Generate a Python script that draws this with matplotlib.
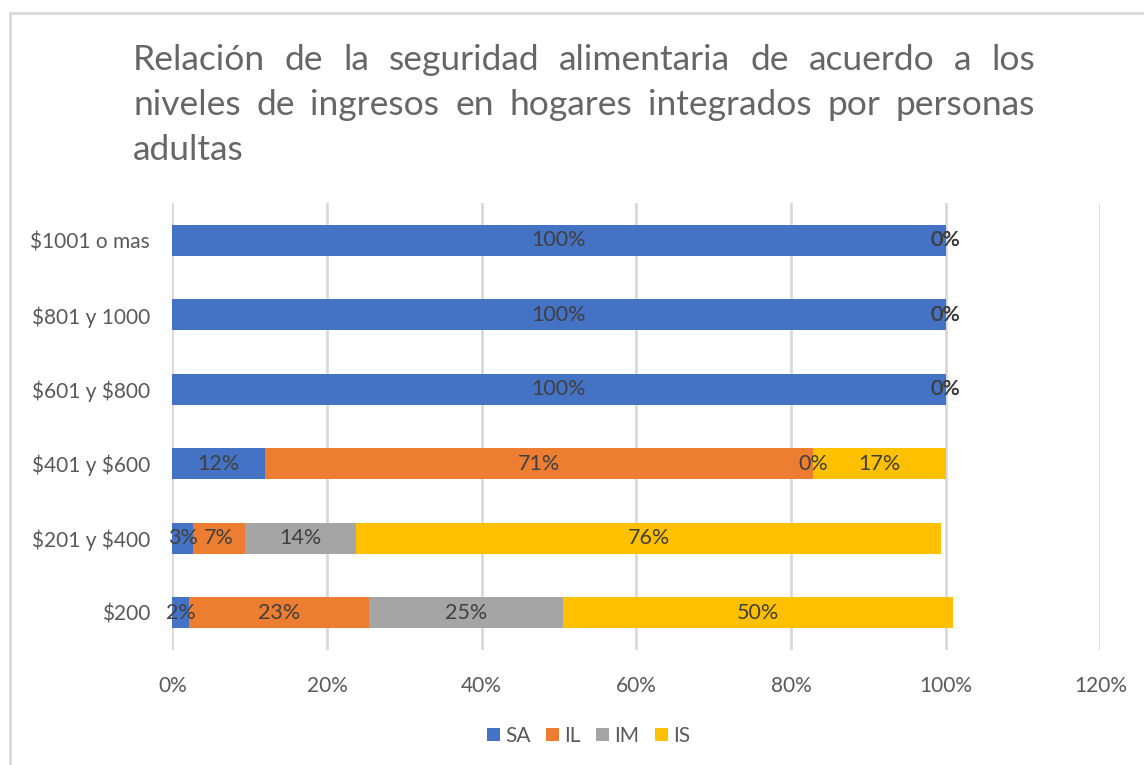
import numpy as np
import matplotlib.pyplot as plt
from matplotlib.patches import Rectangle

# categories bottom to top
categorias = ["$200", "$201 y $400", "$401 y $600", "$601 y $800", "$801 y 1000", "$1001 o mas"]
SA = [0.022, 0.027, 0.120, 1.0, 1.0, 1.0]
IL = [0.232, 0.067, 0.709, 0.0, 0.0, 0.0]
IM = [0.251, 0.144, 0.0, 0.0, 0.0, 0.0]
IS = [0.504, 0.756, 0.171, 0.0, 0.0, 0.0]
series = ["SA", "IL", "IM", "IS"]
colores = ["#4472C4", "#ED7D31", "#A5A5A5", "#FFC000"]
xticks = [0, 0.2, 0.4, 0.6, 0.8, 1.0, 1.2]

titulo = ["Relación de la seguridad alimentaria de acuerdo a los",
          "niveles de ingresos en hogares integrados por personas",
          "adultas"]

plt.rcParams['font.family'] = ['Lato', 'DejaVu Sans']
plt.rcParams['text.parse_math'] = False

W, H = 1144, 765
fig = plt.figure(figsize=(W / 100, H / 100), dpi=100)
ax = fig.add_axes([172.3 / W, 1 - 650 / H, (1100.4 - 172.3) / W, (650 - 203) / H])

y = np.arange(len(categorias))
left = np.zeros(len(categorias))
for nombre, vals, c in zip(series, [SA, IL, IM, IS], colores):
    vals = np.array(vals)
    ax.barh(y, vals, left=left, height=0.41, color=c, label=nombre, zorder=3)
    for yi, l, v in zip(y, left, vals):
        ax.text(l + v / 2, yi, "{:.0%}".format(v), ha='center', va='center',
                fontsize=15.5, color='#404040', zorder=4)
    left = left + vals

ax.set_xlim(0, 1.2)
ax.set_ylim(-0.5, len(categorias) - 0.5)
ax.set_xticks(xticks)
ax.set_xticklabels(["{:.0%}".format(t) for t in xticks])
ax.set_yticks(y)
ax.set_yticklabels(categorias)
ax.tick_params(axis='both', length=0, labelsize=15, labelcolor='#595959')
ax.tick_params(axis='x', pad=19)
ax.tick_params(axis='y', pad=16)
ax.grid(axis='x', color='#d9d9d9', linewidth=2, zorder=0)
for s in ax.spines.values():
    s.set_visible(False)

leg = fig.legend(loc='center', bbox_to_anchor=(588.5 / W, 1 - 736 / H), ncol=4, frameon=False,
                 fontsize=15, handlelength=0.62, handleheight=0.62, handletextpad=0.25,
                 columnspacing=0.75)
for t in leg.get_texts():
    t.set_color('#595959')

# chart border
fig.patches.append(Rectangle((9.5 / W, -0.1), 1.2, 1.1 - 13 / H, transform=fig.transFigure,
                             fill=False, edgecolor='#d9d9d9', linewidth=2))

# justified title
renderer = fig.canvas.get_renderer()
x0, x1 = 133, 1035
bases = [60, 105, 150]
for i, linea in enumerate(titulo):
    palabras = linea.split()
    objs = [fig.text(0, 1 - bases[i] / H, p, fontsize=25.5,
                     color='#666666', va='center', ha='left')
            for p in palabras]
    anchos = [o.get_window_extent(renderer).width for o in objs]
    if i < len(titulo) - 1 and len(palabras) > 1:
        gap = (x1 - x0 - sum(anchos)) / (len(palabras) - 1)
    else:
        gap = 8
    x = x0
    for o, a in zip(objs, anchos):
        o.set_x(x / W)
        x += a + gap

fig.savefig("out.png", dpi=100)
